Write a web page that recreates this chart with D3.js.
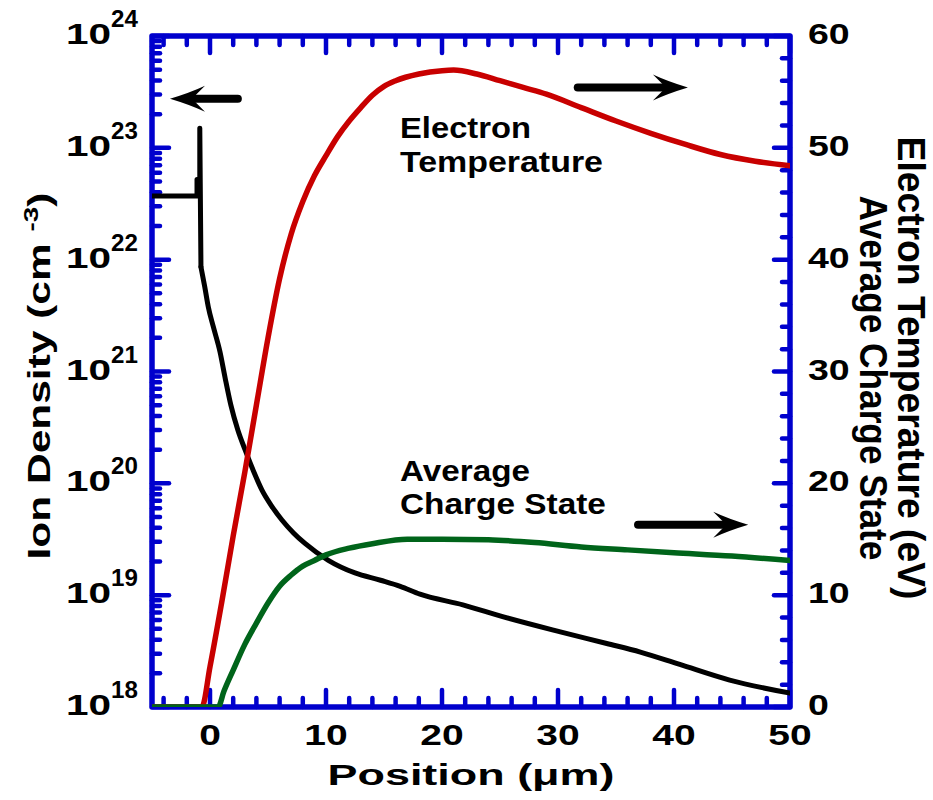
<!DOCTYPE html>
<html><head><meta charset="utf-8">
<script src="https://cdn.jsdelivr.net/npm/d3@7/dist/d3.min.js"></script>
<style>
body{margin:0;background:#fff}
text{font-family:"Liberation Sans",Arial,Helvetica,sans-serif;font-weight:bold;fill:#000}
</style></head>
<body><svg id="chart" width="933" height="800"></svg>
<script>
// ---- data ----
const densityHeadX = [-5, -1.12, -1.12, -0.88, -0.88, -0.78];
const densityHeadY = [3.7e22, 3.7e22, 5.2e22, 5.2e22, 1.5e23, 8.6e21];
const densityTailX = [-0.78, -0.45, -0.15, 0.29, 0.86, 1.3, 1.8, 2.4, 3.02, 3.8, 4.48, 5.3, 6.2, 7.2, 8.19, 10.2, 12.5, 14.7, 16.4, 18.1, 21.8, 25.3, 30.2, 34.2, 37.1, 40.5, 44.8, 50];
const densityTailY = [8.6e21, 5.7e21, 3.8e21, 2.5e21, 1.5e21, 8.8e20, 5.0e20, 3.0e20, 2.0e20, 1.25e20, 8.7e19, 6.3e19, 4.7e19, 3.6e19, 2.9e19, 2.05e19, 1.58e19, 1.36e19, 1.2e19, 1.02e19, 8.2e18, 6.4e18, 4.7e18, 3.7e18, 3.1e18, 2.4e18, 1.74e18, 1.33e18];
const tempX = [-5, -0.7, 0, 1, 2, 3, 4, 5, 6, 7, 8, 9, 10, 11, 12, 13, 14, 15, 16, 18, 20, 21, 23, 25, 27, 29, 32, 35, 38, 41, 44, 47, 50];
const tempY = [0, 0, 3.6, 9.3, 15.3, 21, 27, 33, 38.3, 42.3, 45.2, 47.5, 49.3, 51.0, 52.4, 53.6, 54.7, 55.5, 56.0, 56.6, 56.9, 56.95, 56.6, 56.0, 55.4, 54.8, 53.6, 52.4, 51.3, 50.3, 49.4, 48.8, 48.4];
const chargeX = [-5, 0.7, 1.2, 2, 3, 4, 5, 6, 7, 8, 9, 10, 12, 14, 17, 20, 24, 28, 32, 36, 40, 45, 50];
const chargeY = [0, 0, 1.4, 3.3, 5.6, 7.5, 9.3, 10.8, 11.8, 12.6, 13.1, 13.6, 14.2, 14.6, 15.0, 15.0, 14.95, 14.7, 14.3, 14.05, 13.8, 13.5, 13.1];
const xMajorTicks = [0, 10, 20, 30, 40, 50];
const rightMajorTicks = [0, 10, 20, 30, 40, 50, 60];
const decadeExponents = [18, 19, 20, 21, 22, 23, 24];

// ---- setup ----
const svg = d3.select("#chart");
const L = 152, R = 790, T = 36, B = 707;
const x = d3.scaleLinear([-5, 50], [L, R]);
const yL = d3.scaleLog([1e18, 1e24], [B, T]);
const yR = d3.scaleLinear([0, 60], [B, T]);
const blue = "#0000cd";

svg.append("defs").append("clipPath").attr("id", "clip")
  .append("rect").attr("x", L).attr("y", T - 10).attr("width", R - L).attr("height", B - T + 10);

// ---- axes frame and ticks ----
const axes = svg.append("g").attr("stroke", blue).attr("stroke-linecap", "round");
const xMinor = d3.range(-4, 50, 2).filter(v => !xMajorTicks.includes(v));
function tickLine(x1, y1, x2, y2, w) {
  axes.append("line").attr("x1", x1).attr("y1", y1).attr("x2", x2).attr("y2", y2).attr("stroke-width", w);
}
xMajorTicks.forEach(v => { tickLine(x(v), B, x(v), B - 17, 4.5); tickLine(x(v), T, x(v), T + 17, 4.5); });
xMinor.forEach(v => { tickLine(x(v), B, x(v), B - 9, 4.5); tickLine(x(v), T, x(v), T + 9, 4.5); });
rightMajorTicks.forEach(v => tickLine(R, yR(v), R - 16, yR(v), 4.5));
d3.range(2, 60, 2).filter(v => v % 10 !== 0).forEach(v => tickLine(R, yR(v), R - 8, yR(v), 4.5));
decadeExponents.forEach(e => tickLine(L, yL(Math.pow(10, e)), L + 17, yL(Math.pow(10, e)), 4.5));
decadeExponents.slice(0, -1).forEach(e => {
  for (let k = 2; k <= 9; k++) { const v = k * Math.pow(10, e); tickLine(L, yL(v), L + 8, yL(v), 4.5); }
});
axes.append("rect").attr("x", L).attr("y", T).attr("width", R - L).attr("height", B - T)
  .attr("fill", "none").attr("stroke-width", 5.5).attr("stroke-linejoin", "round");

// ---- curves ----
const plot = svg.append("g").attr("clip-path", "url(#clip)").attr("fill", "none")
  .attr("stroke-linejoin", "round").attr("stroke-linecap", "round");
const lineL = d3.line().x(d => x(d[0])).y(d => yL(d[1]));
const lineLs = d3.line().x(d => x(d[0])).y(d => yL(d[1])).curve(d3.curveMonotoneX);
const lineRs = d3.line().x(d => x(d[0])).y(d => yR(d[1])).curve(d3.curveMonotoneX);
plot.append("path").attr("d", lineL(densityHeadX.map((v, i) => [v, densityHeadY[i]])))
  .attr("stroke", "#000").attr("stroke-width", 5);
plot.append("path").attr("d", lineLs(densityTailX.map((v, i) => [v, densityTailY[i]])))
  .attr("stroke", "#000").attr("stroke-width", 5);
plot.append("path").attr("d", lineRs(tempX.map((v, i) => [v, tempY[i]])))
  .attr("stroke", "#c80000").attr("stroke-width", 5.5);
plot.append("path").attr("d", lineRs(chargeX.map((v, i) => [v, chargeY[i]])))
  .attr("stroke", "#00641a").attr("stroke-width", 5.5);

// ---- arrows ----
function arrow(x1, y1, x2, y2) {
  const g = svg.append("g");
  const dir = Math.sign(x2 - x1);
  g.append("line").attr("x1", x1).attr("y1", y1).attr("x2", x2 - dir * 20).attr("y2", y2)
    .attr("stroke", "#000").attr("stroke-width", 8).attr("stroke-linecap", "round");
  const p = d3.path();
  p.moveTo(x2, y2);
  p.quadraticCurveTo(x2 - dir * 20, y2 - 6, x2 - dir * 35, y2 - 13);
  p.lineTo(x2 - dir * 22, y2);
  p.lineTo(x2 - dir * 35, y2 + 13);
  p.quadraticCurveTo(x2 - dir * 20, y2 + 6, x2, y2);
  p.closePath();
  g.append("path").attr("d", p.toString()).attr("fill", "#000");
}
arrow(x(2.4), yL(Math.pow(10, 23.44)), x(-3.45), yL(Math.pow(10, 23.44)));
arrow(x(31.7), yR(55.4), x(41.2), yR(55.4));
arrow(x(36.9), yR(16.3), x(46.4), yR(16.3));

// ---- text helper ----
function label(txt, px, py, opts = {}) {
  const size = opts.size || 30, anchor = opts.anchor || "start", rot = opts.rot || 0;
  const g = svg.append("g");
  const t = g.append("text").attr("font-size", size).attr("text-anchor", anchor);
  if (Array.isArray(txt)) {
    txt.forEach(part => {
      const ts = t.append("tspan").text(part.t);
      if (part.size) ts.attr("font-size", part.size);
      if (part.dy) ts.attr("dy", part.dy);
      if (part.dx) ts.attr("dx", part.dx);
    });
  } else t.text(txt);
  let sx = opts.sx || 1;
  if (opts.len) sx = opts.len / t.node().getComputedTextLength();
  g.attr("transform", `translate(${px},${py}) rotate(${rot}) scale(${sx},1)`);
  return g;
}

// tick labels
xMajorTicks.forEach(v => label(String(v), x(v), 745, { anchor: "middle", sx: 1.3 }));
rightMajorTicks.forEach(v => label(String(v), 808, yR(v) + 8, { sx: 1.25 }));
decadeExponents.forEach(e => {
  const yy = yL(Math.pow(10, e));
  label("10", 111, yy + 8, { anchor: "end", sx: 1.35 });
  label(String(e), 111, yy - 9, { size: 23, sx: 1.05 });
});

// axis titles
label("Position (\u03bcm)", x(22.5), 785, { anchor: "middle", len: 287 });
label([{ t: "Ion Density (cm " }, { t: "-3", size: 21, dy: -12 }, { t: ")", dy: 12 }], 50, 376,
  { anchor: "middle", rot: -90, size: 32, len: 367 });
label("Electron Temperature (eV)", 898, 368, { anchor: "middle", rot: 90, size: 38, len: 463 });
label("Average Charge State", 860, 378, { anchor: "middle", rot: 90, size: 38, len: 365 });

// annotations
label("Electron", 400, 138, { len: 131 });
label("Temperature", 400, 172, { len: 203 });
label("Average", 400, 481, { len: 130 });
label("Charge State", 400, 514, { len: 206 });
</script></body></html>
